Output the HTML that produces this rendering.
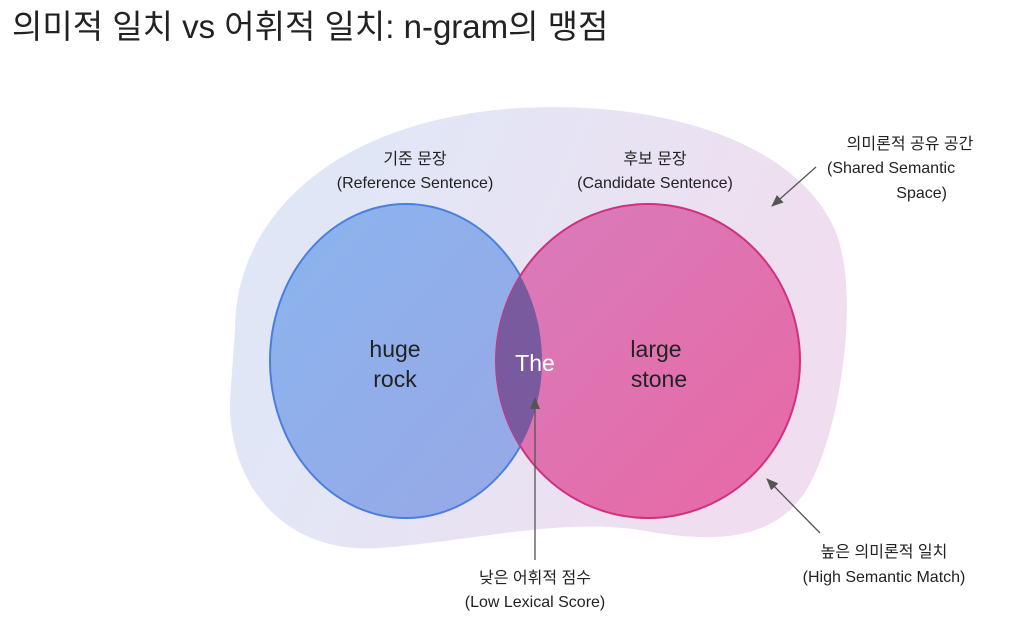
<!DOCTYPE html>
<html><head><meta charset="utf-8"><style>
body{margin:0;background:#fff;}
svg text{font-family:"Liberation Sans","Noto Sans CJK KR",sans-serif;fill:#222;}
</style></head><body>
<svg width="1024" height="634" viewBox="0 0 1024 634" xmlns="http://www.w3.org/2000/svg">
<defs>
<linearGradient id="bg" x1="0" y1="0" x2="1" y2="0.3">
<stop offset="0" stop-color="#dce8f8"/><stop offset="0.5" stop-color="#e6e4f4"/><stop offset="1" stop-color="#f0ddef"/></linearGradient>
<linearGradient id="bl" x1="0" y1="0" x2="1" y2="1">
<stop offset="0" stop-color="#8ab4ee"/><stop offset="1" stop-color="#98a8e6"/></linearGradient>
<linearGradient id="pk" x1="0" y1="0" x2="1" y2="1">
<stop offset="0" stop-color="#d87cbc"/><stop offset="1" stop-color="#e868a4"/></linearGradient>
<clipPath id="cl"><ellipse cx="406" cy="361" rx="136" ry="157"/></clipPath>
<marker id="ar" markerWidth="14" markerHeight="14" refX="11" refY="6" orient="auto" markerUnits="userSpaceOnUse"><path d="M0,1 L12,6 L0,11 z" fill="#555"/></marker>
</defs>
<text x="12" y="38" font-size="33">의미적 일치 vs 어휘적 일치: n-gram의 맹점</text>
<path d="M235,330 C235,220 330,120 520,108 C680,100 800,150 835,230 C860,290 842,420 812,480 C782,540 720,545 640,530 C560,518 480,540 380,548 C280,555 228,480 230,400 Z" fill="url(#bg)"/>
<ellipse cx="406" cy="361" rx="136" ry="157" fill="url(#bl)" stroke="#4a7fe0" stroke-width="2"/>
<ellipse cx="648" cy="361" rx="152" ry="157" fill="url(#pk)" stroke="#d0307e" stroke-width="2"/>
<ellipse cx="648" cy="361" rx="152" ry="157" fill="#7a5a9e" clip-path="url(#cl)"/>
<g font-size="16" text-anchor="middle">
<text x="415" y="164">기준 문장</text><text x="415" y="188">(Reference Sentence)</text>
<text x="655" y="164">후보 문장</text><text x="655" y="188">(Candidate Sentence)</text>
<text x="535" y="583">낮은 어휘적 점수</text><text x="535" y="607">(Low Lexical Score)</text>
<text x="884" y="557">높은 의미론적 일치</text><text x="884" y="582">(High Semantic Match)</text>
<text x="910" y="149">의미론적 공유 공간</text>
</g>
<text x="827" y="173" font-size="16">(Shared Semantic</text>
<text x="947" y="198" font-size="16" text-anchor="end">Space)</text>
<g font-size="23" text-anchor="middle">
<text x="395" y="357">huge</text><text x="395" y="387">rock</text>
<text x="656" y="357">large</text><text x="659" y="387">stone</text>
<text x="535" y="371" style="fill:#fff">The</text>
</g>
<g stroke="#555" stroke-width="1.3">
<line x1="535" y1="560" x2="535" y2="398" marker-end="url(#ar)"/>
<line x1="816" y1="167" x2="772" y2="206" marker-end="url(#ar)"/>
<line x1="820" y1="533" x2="767" y2="479" marker-end="url(#ar)"/>
</g>
</svg>
</body></html>
